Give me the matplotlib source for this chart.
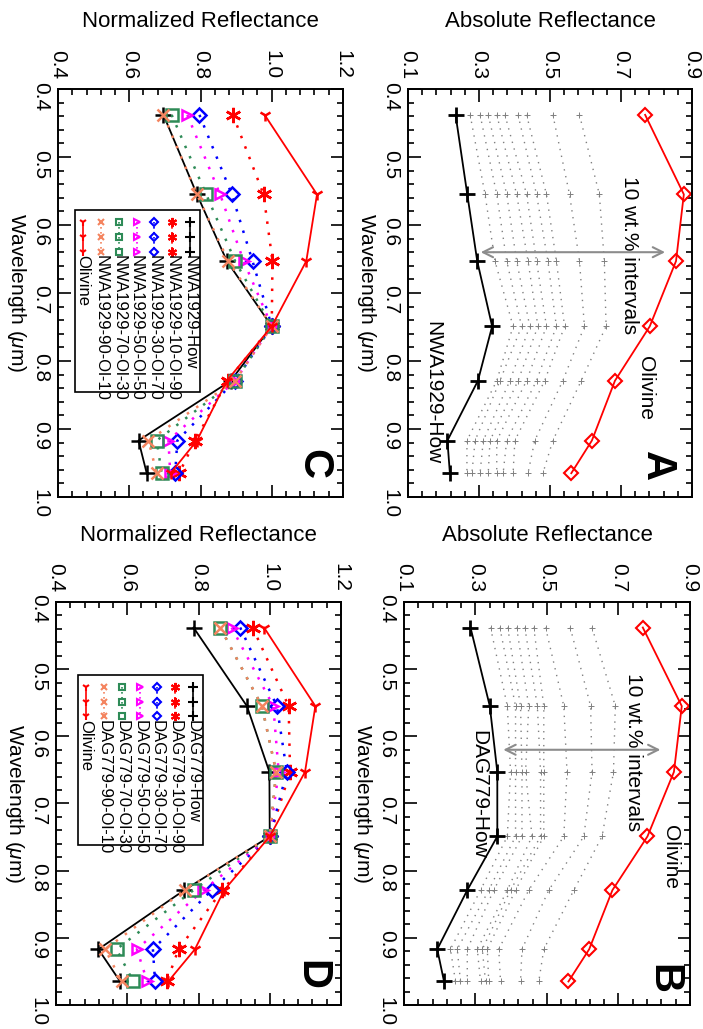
import numpy as np
import matplotlib
matplotlib.use("Agg")
import matplotlib.pyplot as plt

plt.rcParams['font.family'] = ['Liberation Sans', 'DejaVu Sans']
plt.rcParams['mathtext.fontset'] = 'custom'
plt.rcParams['mathtext.it'] = 'Liberation Sans:italic'

# Dawn FC filter centres (um)
wavelength = [0.438, 0.555, 0.653, 0.749, 0.829, 0.917, 0.965]

# absolute reflectance, panels A and B
olivine_abs = [0.768, 0.877, 0.855, 0.781, 0.683, 0.618, 0.560]
nwa_how_abs = [0.234, 0.267, 0.295, 0.337, 0.297, 0.211, 0.218]
dag_how_abs = [0.286, 0.340, 0.361, 0.361, 0.277, 0.193, 0.212]

# 10 wt.% mixtures (one row per wavelength, 90-How ... 10-How)
nwa_mix_abs = [
    [0.275, 0.303, 0.326, 0.350, 0.373, 0.410, 0.434, 0.508, 0.583],
    [0.317, 0.350, 0.378, 0.406, 0.434, 0.462, 0.490, 0.555, 0.639],
    [0.345, 0.378, 0.406, 0.438, 0.462, 0.494, 0.518, 0.583, 0.653],
    [0.396, 0.420, 0.443, 0.466, 0.490, 0.518, 0.541, 0.597, 0.658],
    [0.350, 0.359, 0.387, 0.410, 0.434, 0.462, 0.485, 0.536, 0.588],
    [0.266, 0.289, 0.312, 0.331, 0.350, 0.378, 0.401, 0.457, 0.508],
    [0.266, 0.280, 0.303, 0.326, 0.350, 0.368, 0.396, 0.438, 0.480],
]
dag_mix_abs = [
    [0.342, 0.368, 0.390, 0.415, 0.438, 0.463, 0.496, 0.565, 0.626],
    [0.389, 0.412, 0.426, 0.449, 0.473, 0.491, 0.547, 0.622, 0.691],
    [0.398, 0.412, 0.430, 0.440, 0.482, 0.491, 0.556, 0.626, 0.686],
    [0.389, 0.412, 0.430, 0.458, 0.482, 0.491, 0.547, 0.603, 0.654],
    [0.314, 0.337, 0.351, 0.389, 0.398, 0.412, 0.449, 0.505, 0.575],
    [0.230, 0.249, 0.277, 0.305, 0.319, 0.333, 0.365, 0.430, 0.491],
    [0.244, 0.258, 0.277, 0.314, 0.328, 0.337, 0.370, 0.426, 0.477],
]

# normalized reflectance (to 0.749 um), panel C
nwa_labels = ['NWA1929-How', 'NWA1929-10-Ol-90', 'NWA1929-30-Ol-70',
              'NWA1929-50-Ol-50', 'NWA1929-70-Ol-30', 'NWA1929-90-Ol-10', 'Olivine']
nwa_norm = [
    [0.696, 0.790, 0.874, 1.0, 0.885, 0.626, 0.649],
    [0.891, 0.977, 1.002, 1.0, 0.876, 0.785, 0.740],
    [0.797, 0.888, 0.946, 1.0, 0.897, 0.735, 0.729],
    [0.763, 0.855, 0.921, 1.0, 0.897, 0.710, 0.715],
    [0.719, 0.816, 0.897, 1.0, 0.897, 0.677, 0.691],
    [0.696, 0.790, 0.878, 1.0, 0.897, 0.654, 0.677],
    [0.980, 1.127, 1.097, 1.0, 0.874, 0.790, 0.716],
]
# panel D
dag_labels = ['DAG779-How', 'DAG779-10-Ol-90', 'DAG779-30-Ol-70',
              'DAG779-50-Ol-50', 'DAG779-70-Ol-30', 'DAG779-90-Ol-10', 'Olivine']
dag_norm = [
    [0.786, 0.936, 0.999, 1.0, 0.760, 0.519, 0.580],
    [0.952, 1.053, 1.057, 1.0, 0.867, 0.744, 0.711],
    [0.917, 1.020, 1.048, 1.0, 0.837, 0.672, 0.678],
    [0.893, 1.010, 1.025, 1.0, 0.814, 0.627, 0.656],
    [0.861, 0.978, 1.018, 1.0, 0.786, 0.570, 0.617],
    [0.861, 0.978, 1.018, 1.0, 0.762, 0.538, 0.584],
    [0.984, 1.128, 1.099, 1.0, 0.872, 0.790, 0.715],
]

# style of each normalized series: colour, marker, linestyle, marker size
series_style = [
    ('black', '+', '-', 11),
    ('red', (6, 2, 0), ':', 11),
    ('blue', 'D', ':', 7),
    ('magenta', '>', ':', 7),
    ('#2e8b57', 's', ':', 8),
    ('#f4845f', 'x', ':', 8),
    ('red', '1', '-', 9),
]

abs_ticks = [0.1, 0.3, 0.5, 0.7, 0.9]
norm_ticks = [0.4, 0.6, 0.8, 1.0, 1.2]
wl_ticks = [0.4, 0.5, 0.6, 0.7, 0.8, 0.9, 1.0]

W, H = 703, 1029
fig = plt.figure(figsize=(W / 100, H / 100), dpi=100)


def px_rect(left, right, top, bottom):
    return [left / W, 1 - bottom / H, (right - left) / W, (bottom - top) / H]


def setup(ax, xticks, xlabel):
    ax.set_xlim(xticks[0], xticks[-1])
    ax.set_ylim(1.0, 0.4)
    ax.set_xticks(xticks)
    ax.set_xticklabels(['%.1f' % t for t in xticks])
    ax.set_xticks(np.arange(xticks[0], xticks[-1] + 1e-6, 0.04), minor=True)
    ax.set_yticks(wl_ticks)
    ax.set_yticklabels(['%.1f' % t for t in wl_ticks])
    ax.set_yticks(np.arange(0.4, 1.0001, 0.02), minor=True)
    ax.tick_params(which='both', direction='in', top=True, bottom=True,
                   left=True, right=True, width=1.2)
    ax.tick_params(which='major', length=9)
    ax.tick_params(which='minor', length=4.5)
    ax.tick_params(axis='x', labeltop=True, labelbottom=False,
                   labelrotation=-90, labelsize=15, pad=7)
    ax.tick_params(axis='y', labelrotation=-90, labelsize=15, pad=6)
    for s in ax.spines.values():
        s.set_linewidth(1.4)
    ax.text(0.5, 1.165, xlabel, transform=ax.transAxes, ha='center',
            va='center', fontsize=16)
    ax.text(-0.145, 0.5, r'Wavelength ($\mu$m)', transform=ax.transAxes,
            ha='center', va='center', rotation=-90, fontsize=15)


def panel_letter(ax, letter, x, y):
    ax.text(x, y, letter, transform=ax.transAxes, rotation=-90, ha='center',
            va='center', fontsize=30, fontweight='bold')


def abs_panel(ax, how, mix, how_name, letter, arrow, txt):
    mix = np.array(mix)
    for k in range(mix.shape[1]):
        ax.plot(mix[:, k], wavelength, color='0.5', ls=(0, (1, 4)), lw=1.0,
                marker='+', ms=4, mew=0.7)
    ax.plot(how, wavelength, color='black', lw=1.3, marker='+', ms=12, mew=2)
    ax.plot(olivine_abs, wavelength, color='red', lw=1.3, marker='D', ms=7,
            mfc='none', mew=1.5)
    ax.annotate('', xy=(arrow[1], arrow[2]), xytext=(arrow[0], arrow[2]),
                arrowprops=dict(arrowstyle='<->', color='0.55', lw=1.5,
                                mutation_scale=18))
    ax.text(txt[0][0], txt[0][1], '10 wt.% intervals', rotation=-90,
            ha='center', va='center', fontsize=15)
    ax.text(txt[1][0], txt[1][1], 'Olivine', rotation=-90,
            ha='center', va='center', fontsize=15)
    ax.text(txt[2][0], txt[2][1], how_name, rotation=-90,
            ha='center', va='center', fontsize=15)
    panel_letter(ax, letter[0], letter[1], letter[2])


def norm_panel(ax, series, labels, letter, box):
    for vals, (c, m, ls, ms) in zip(series, series_style):
        ax.plot(vals, wavelength, color=c, ls=ls if ls == '-' else (0, (1, 3.5)),
                lw=1.3 if ls == '-' else 1.8,
                marker=m, ms=ms, mfc='none', mew=1.8)
    # hand-made vertical legend
    x0, x1, y0, y1 = box
    ax.add_patch(plt.Rectangle((x0, y1), x1 - x0, y0 - y1, transform=ax.transAxes,
                               fill=False, ec='black', lw=1.2, zorder=5))
    for i, (lab, (c, m, ls, ms)) in enumerate(zip(labels, series_style)):
        xc = x1 - 0.035 - i * 0.0625
        ym = [y0 - 0.028, y0 - 0.065, y0 - 0.102]
        ax.plot([xc] * 3, ym, transform=ax.transAxes, color=c,
                ls=ls if ls == '-' else (0, (1, 2)), lw=1.2,
                marker=m, ms=ms * 0.6, mfc='none', mew=1.5, zorder=6)
        ax.text(xc, y0 - 0.110, lab, transform=ax.transAxes, rotation=-90,
                rotation_mode='anchor', ha='left', va='center', fontsize=12, zorder=6)
    panel_letter(ax, letter[0], letter[1], letter[2])


axA = fig.add_axes(px_rect(408, 692, 89, 497))
setup(axA, abs_ticks, 'Absolute Reflectance')
abs_panel(axA, nwa_how_abs, nwa_mix_abs, 'NWA1929-How', ('A', 0.877, 0.075),
          (0.297, 0.832, 0.640), [(0.725, 0.644), (0.768, 0.839), (0.170, 0.846)])

axB = fig.add_axes(px_rect(404, 690, 602, 1005))
setup(axB, abs_ticks, 'Absolute Reflectance')
abs_panel(axB, dag_how_abs, dag_mix_abs, 'DAG779-How', ('B', 0.906, 0.065),
          (0.370, 0.825, 0.620), [(0.741, 0.624), (0.845, 0.779), (0.308, 0.686)])

axC = fig.add_axes(px_rect(58, 343, 89, 497))
setup(axC, norm_ticks, 'Normalized Reflectance')
norm_panel(axC, nwa_norm, nwa_labels, ('C', 0.897, 0.08),
           (0.060, 0.498, 0.703, 0.257))

axD = fig.add_axes(px_rect(56, 341, 602, 1005))
setup(axD, norm_ticks, 'Normalized Reflectance')
norm_panel(axD, dag_norm, dag_labels, ('D', 0.897, 0.075),
           (0.077, 0.516, 0.818, 0.396))

fig.savefig('out.png', dpi=100)
